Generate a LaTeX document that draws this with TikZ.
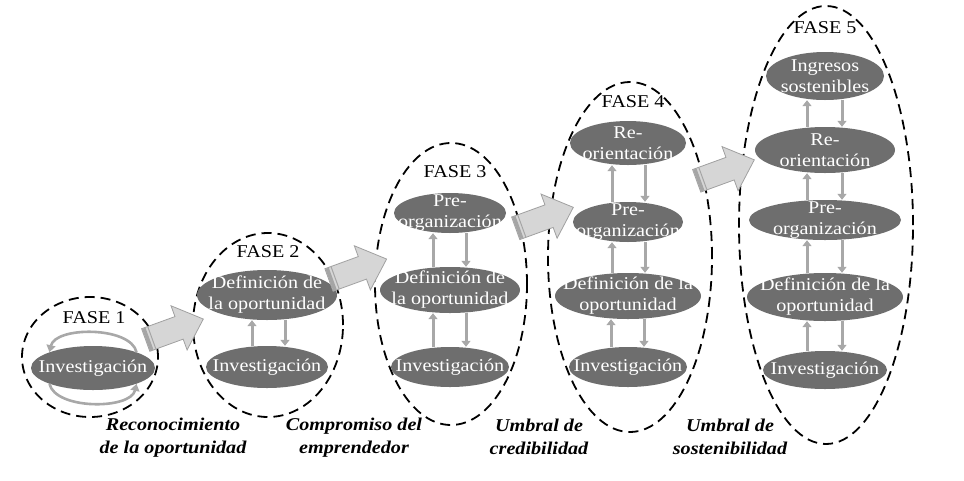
\documentclass[tikz,border=0pt]{standalone}
\usepackage{fontspec}
\setmainfont{Liberation Serif}[FakeStretch=1.12]
\usetikzlibrary{shapes.geometric,arrows.meta}
\definecolor{ellfill}{RGB}{110,110,110}
\definecolor{arrline}{RGB}{168,168,168}
\definecolor{blockfill}{RGB}{214,214,214}
\definecolor{blockline}{RGB}{160,160,160}
\definecolor{stripe}{RGB}{165,165,165}
\tikzset{
  stage/.style={ellipse, draw=none, fill=ellfill, inner sep=0pt},
  stagetext/.style={text=white, align=center, font=\fontsize{18}{21}\selectfont, inner sep=0pt},
  phase/.style={ellipse, draw=black, dash pattern=on 10pt off 6pt, line width=1.8pt, inner sep=0pt},
  fasetext/.style={font=\fontsize{18}{21}\selectfont, inner sep=0pt},
  milestone/.style={font=\fontsize{18}{23}\selectfont\bfseries\itshape, align=center, inner sep=0pt},
  flow/.style={draw=arrline, line width=3pt, -{Triangle[length=6pt,width=9pt]}},
  loopback/.style={draw=arrline, line width=2.6pt, -{Triangle[length=7pt,width=9pt]}},
  block/.style={fill=blockfill, draw=blockline, line width=0.8pt, line join=miter},
}
\begin{document}
\begin{tikzpicture}[x=1pt, y=-1pt]
\useasboundingbox (0,0) rectangle (964,480);

% ---------- phase containers ----------
\node[phase, minimum width=136pt, minimum height=120pt] (ph1) at (90,357) {};
\node[phase, minimum width=150pt, minimum height=184pt] (ph2) at (268,325) {};
\node[phase, minimum width=152pt, minimum height=282pt] (ph3) at (451,284) {};
\node[phase, minimum width=164pt, minimum height=350pt] (ph4) at (630,257) {};
\node[phase, minimum width=174pt, minimum height=438pt] (ph5) at (826,225) {};

\node[fasetext] (f1) at (94,318) {FASE 1};
\node[fasetext] (f2) at (268,252) {FASE 2};
\node[fasetext] (f3) at (455,172) {FASE 3};
\node[fasetext] (f4) at (633,102) {FASE 4};
\node[fasetext] (f5) at (825,28) {FASE 5};

% ---------- phase 1 ----------
\node[stage, minimum width=124pt, minimum height=44pt] (inv1) at (93,368) {};
\node[stagetext] (inv1t) at (inv1) {Investigación};
\draw[loopback] (inv1.20) .. controls +(-6,-26) and +(6,-26) .. (inv1.160);
\draw[loopback] (inv1.200) .. controls +(6,26) and +(-6,26) .. (inv1.340);

% ---------- phase 2 ----------
\node[stage, minimum width=140pt, minimum height=50pt] (def2) at (267,295) {};
\node[stagetext] (def2t) at (def2) {Definición de\\la oportunidad};
\node[stage, minimum width=122pt, minimum height=42pt] (inv2) at (267,367) {};
\node[stagetext] (inv2t) at (inv2) {Investigación};
\draw[flow] ([xshift=-15pt]inv2.north) -- ([xshift=-15pt]def2.south);
\draw[flow] ([xshift=18pt]def2.south) -- ([xshift=18pt]inv2.north);

% ---------- phase 3 ----------
\node[stage, minimum width=112pt, minimum height=40pt] (pre3) at (450,213) {};
\node[stagetext] (pre3t) at (pre3) {Pre-\\organización};
\node[stage, minimum width=140pt, minimum height=46pt] (def3) at (450,290) {};
\node[stagetext] (def3t) at (def3) {Definición de\\la oportunidad};
\node[stage, minimum width=118pt, minimum height=40pt] (inv3) at (450,367) {};
\node[stagetext] (inv3t) at (inv3) {Investigación};
\draw[flow] ([xshift=-17pt]def3.north) -- ([xshift=-17pt]pre3.south);
\draw[flow] ([xshift=16pt]pre3.south) -- ([xshift=16pt]def3.north);
\draw[flow] ([xshift=-17pt]inv3.north) -- ([xshift=-17pt]def3.south);
\draw[flow] ([xshift=16pt]def3.south) -- ([xshift=16pt]inv3.north);

% ---------- phase 4 ----------
\node[stage, minimum width=116pt, minimum height=44pt] (re4) at (628,143) {};
\node[stagetext] (re4t) at (re4) {Re-\\orientación};
\node[stage, minimum width=110pt, minimum height=40pt] (pre4) at (628,222) {};
\node[stagetext] (pre4t) at (pre4) {Pre-\\organización};
\node[stage, minimum width=146pt, minimum height=46pt] (def4) at (628,296) {};
\node[stagetext] (def4t) at (def4) {Definición de la\\oportunidad};
\node[stage, minimum width=118pt, minimum height=40pt] (inv4) at (628,367) {};
\node[stagetext] (inv4t) at (inv4) {Investigación};
\draw[flow] ([xshift=-16pt]pre4.north) -- ([xshift=-16pt]re4.south);
\draw[flow] ([xshift=17pt]re4.south) -- ([xshift=17pt]pre4.north);
\draw[flow] ([xshift=-16pt]def4.north) -- ([xshift=-16pt]pre4.south);
\draw[flow] ([xshift=17pt]pre4.south) -- ([xshift=17pt]def4.north);
\draw[flow] ([xshift=-17pt]inv4.north) -- ([xshift=-17pt]def4.south);
\draw[flow] ([xshift=16pt]def4.south) -- ([xshift=16pt]inv4.north);

% ---------- phase 5 ----------
\node[stage, minimum width=118pt, minimum height=48pt] (ing5) at (825,76) {};
\node[stagetext] (ing5t) at (ing5) {Ingresos\\sostenibles};
\node[stage, minimum width=140pt, minimum height=46pt] (re5) at (825,150) {};
\node[stagetext] (re5t) at (re5) {Re-\\orientación};
\node[stage, minimum width=152pt, minimum height=40pt] (pre5) at (825,220) {};
\node[stagetext] (pre5t) at (pre5) {Pre-\\organización};
\node[stage, minimum width=156pt, minimum height=48pt] (def5) at (825,297) {};
\node[stagetext] (def5t) at (def5) {Definición de la\\oportunidad};
\node[stage, minimum width=124pt, minimum height=38pt] (inv5) at (825,370) {};
\node[stagetext] (inv5t) at (inv5) {Investigación};
\draw[flow] ([xshift=-18pt]re5.north) -- ([xshift=-18pt]ing5.south);
\draw[flow] ([xshift=17pt]ing5.south) -- ([xshift=17pt]re5.north);
\draw[flow] ([xshift=-18pt]pre5.north) -- ([xshift=-18pt]re5.south);
\draw[flow] ([xshift=17pt]re5.south) -- ([xshift=17pt]pre5.north);
\draw[flow] ([xshift=-18pt]def5.north) -- ([xshift=-18pt]pre5.south);
\draw[flow] ([xshift=17pt]pre5.south) -- ([xshift=17pt]def5.north);
\draw[flow] ([xshift=-18pt]inv5.north) -- ([xshift=-18pt]def5.south);
\draw[flow] ([xshift=17pt]def5.south) -- ([xshift=17pt]inv5.north);

% ---------- block arrows between phases ----------
\foreach \cx/\cy in {145.7/340, 329/280, 515.7/228.3, 696.7/180.8}{
  \begin{scope}[shift={(\cx,\cy)}, rotate=20]
    \draw[block] (0,-12) -- (35.5,-12) -- (35.5,-23.5) -- (61.3,0) -- (35.5,23.5) -- (35.5,12) -- (0,12) -- cycle;
    \fill[stripe] (0.4,-11.6) rectangle (4,11.6);
    \draw[stripe, line width=1pt] (6.5,-11.6) -- (6.5,11.6);
  \end{scope}
}

% ---------- milestones ----------
\node[milestone] (m1) at (173,438) {Reconocimiento\\de la oportunidad};
\node[milestone] (m2) at (354,438) {Compromiso del\\emprendedor};
\node[milestone] (m3) at (539,437) {Umbral de\\credibilidad};
\node[milestone] (m4) at (730,437) {Umbral de\\sostenibilidad};
\end{tikzpicture}
\end{document}
